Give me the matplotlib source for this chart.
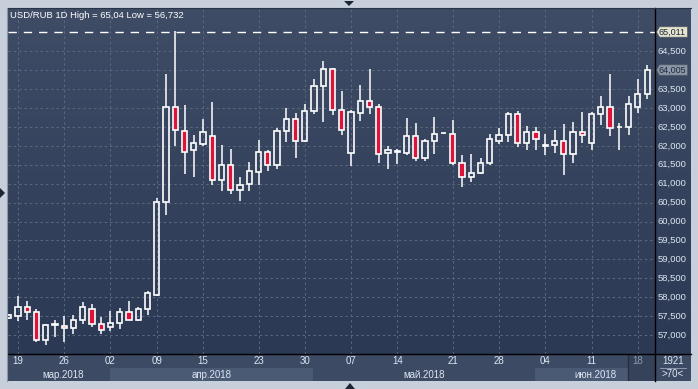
import matplotlib
matplotlib.use("Agg")
import matplotlib.pyplot as plt
import numpy as np
from matplotlib.patches import Polygon, Rectangle
from matplotlib.colors import LinearSegmentedColormap

# ---------------- data ----------------
title = "USD/RUB 1D High = 65,04 Low = 56,732"
first_index = -1
opens = [57.45, 57.51, 57.75, 57.60, 56.86, 57.26, 57.24, 57.18, 57.41, 57.69,
         57.28, 57.20, 57.31, 57.60, 57.40, 57.69, 58.07, 60.51, 63.04, 62.40,
         61.89, 62.04, 62.25, 61.10, 61.49, 60.83, 60.99, 61.31, 61.83, 61.49,
         62.39, 62.70, 62.14, 62.91, 63.57, 64.02, 62.96, 61.81, 62.86, 63.18,
         63.02, 61.81, 61.84, 61.82, 62.25, 61.68, 62.12, 62.33, 62.31, 61.54,
         61.18, 61.28, 61.54, 62.12, 62.28, 62.83, 62.07, 62.38, 62.00, 62.02,
         62.12, 61.78, 62.36, 62.07, 62.83, 63.02, 62.50, 62.51, 63.04, 63.36]
highs = [57.55, 58.03, 57.89, 57.70, 57.30, 57.40, 57.50, 57.53, 57.87, 57.83,
         57.47, 57.63, 57.71, 57.89, 57.75, 58.16, 60.61, 63.89, 65.04, 63.07,
         62.29, 62.70, 63.15, 62.03, 61.92, 61.18, 61.58, 62.16, 61.89, 62.46,
         63.00, 62.86, 63.12, 63.76, 64.24, 64.05, 63.45, 62.96, 63.62, 64.03,
         63.10, 62.00, 61.92, 62.74, 62.61, 62.18, 62.76, 62.34, 62.68, 61.76,
         61.79, 61.68, 62.32, 62.46, 62.90, 62.91, 62.53, 62.50, 62.32, 62.41,
         62.58, 62.63, 62.89, 62.89, 63.32, 63.89, 62.61, 63.32, 63.76, 64.13]
lows = [57.42, 57.38, 57.40, 56.82, 56.732, 56.96, 56.81, 57.02, 57.28, 57.22,
        57.02, 57.11, 57.15, 57.39, 57.38, 57.54, 58.04, 60.16, 62.00, 61.25,
        61.17, 62.00, 60.96, 60.81, 60.72, 60.54, 60.80, 60.97, 61.33, 61.40,
        62.09, 61.69, 62.10, 62.85, 62.64, 62.81, 62.30, 61.46, 62.66, 62.85,
        61.54, 61.38, 61.51, 61.75, 61.59, 61.59, 61.78, 62.32, 61.49, 60.90,
        61.04, 61.25, 61.49, 62.04, 62.11, 61.96, 61.89, 61.90, 61.77, 61.82,
        61.22, 61.54, 62.07, 61.90, 62.56, 62.26, 61.90, 62.30, 62.88, 63.25]
closes = [57.52, 57.75, 57.60, 56.86, 57.26, 57.28, 57.18, 57.41, 57.73, 57.29,
          57.13, 57.31, 57.60, 57.41, 57.68, 58.10, 60.51, 63.04, 62.41, 61.83,
          62.07, 62.38, 61.10, 61.49, 60.84, 60.96, 61.33, 61.83, 61.49, 62.39,
          62.70, 62.12, 62.91, 63.57, 64.02, 62.96, 62.41, 62.89, 63.18, 63.02,
          61.78, 61.89, 61.86, 62.26, 61.68, 62.12, 62.31, 62.33, 61.54, 61.18,
          61.28, 61.54, 62.18, 62.28, 62.83, 62.07, 62.38, 62.18, 62.01, 62.12,
          61.78, 62.36, 62.28, 62.83, 63.02, 62.46, 62.51, 63.10, 63.36, 64.005]
tick_index = [0, 5, 10, 15, 20, 26, 31, 36, 41, 47, 52, 57, 62, 67]
tick_labels = ["19", "26", "02", "09", "15", "23", "30", "07", "14", "21", "28", "04", "11", "18"]
month_labels = ["мар.2018", "апр.2018", "май.2018", "июн.2018"]
month_edges = [9.95, 31.9, 55.9]
price_levels = [57.0, 57.5, 58.0, 58.5, 59.0, 59.5, 60.0, 60.5, 61.0, 61.5,
                62.0, 62.5, 63.0, 63.5, 64.0, 64.5]
high_line = 65.011
last_close = 64.005
corner_top = "1921"
corner_bottom = ">70<"

# ---------------- layout helpers ----------------
W, H = 698, 389
def rect(x0, y0, x1, y1):
    return [x0 / W, 1 - y1 / H, (x1 - x0) / W, (y1 - y0) / H]

def bare(a):
    for s in a.spines.values():
        s.set_visible(False)
    a.set_xticks([])
    a.set_yticks([])

FONT = "Liberation Sans"
LBL = "#dce6f2"
RED = "#dc143c"
YMIN, YMAX = 56.498, 65.645
XMIN, XMAX = -1.08, 68.86

fig = plt.figure(figsize=(W / 100, H / 100), dpi=100, facecolor="#c7cfda")

# background gradient (plot + right price panel)
bg = fig.add_axes(rect(8, 8, 691, 354))
cmap = LinearSegmentedColormap.from_list("g", ["#3f4c66", "#2c3954"])
bg.imshow(np.linspace(0, 1, 256).reshape(-1, 1), aspect="auto", cmap=cmap,
          extent=[0, 1, 0, 1], origin="upper")
bg.set_axis_off()

# main candle axes
ax = fig.add_axes(rect(8, 8, 655, 354))
ax.set_facecolor("none")
ax.set_xlim(XMIN, XMAX)
ax.set_ylim(YMIN, YMAX)
bare(ax)

grid_kw = dict(color="#5b6a84", lw=0.7, linestyle=(0, (2.5, 3)), zorder=1)
for lv in price_levels:
    ax.axhline(lv, **grid_kw)
for ti in tick_index:
    ax.axvline(ti, **grid_kw)

ax.axhline(high_line, color="white", lw=1.0, linestyle=(0, (6, 5)), zorder=2)

o = np.array(opens); h = np.array(highs); l = np.array(lows); c = np.array(closes)
x = np.arange(first_index, first_index + len(o))
top = np.maximum(o, c); bot = np.minimum(o, c)
up = c >= o
ax.vlines(x, top, h, color="white", lw=1.1, zorder=3)
ax.vlines(x, l, bot, color="white", lw=1.1, zorder=3)
height = np.maximum(top - bot, 0.004)
ax.bar(x[up], height[up], bottom=bot[up], width=0.55, facecolor="none",
       edgecolor="white", lw=1.2, zorder=4)
ax.bar(x[~up], height[~up], bottom=bot[~up], width=0.55, facecolor=RED,
       edgecolor="white", lw=1.2, zorder=4)

fig.text(10 / W, 1 - 15 / H, title, color="white", fontsize=6.8, family=FONT,
         va="center", ha="left")

# right price panel
rax = fig.add_axes(rect(655, 8, 691, 354))
rax.set_facecolor("none")
rax.set_xlim(0, 36)
rax.set_ylim(YMIN, YMAX)
bare(rax)
for lv in price_levels:
    if abs(lv - 64.0) < 1e-6:
        continue
    rax.text(3, lv, f"{lv:.3f}".replace(".", ","), color=LBL, fontsize=6.8,
             family=FONT, va="center", ha="left")

def price_box(val, face, txtcol):
    hh = 5.2 / 37.83
    pts = [(1.5, val), (4.5, val + hh), (32.5, val + hh), (32.5, val - hh), (4.5, val - hh)]
    rax.add_patch(Polygon(pts, closed=True, facecolor=face, edgecolor="#555c66",
                          lw=0.5, zorder=5))
    rax.text(3.5, val, f"{val:.3f}".replace(".", ","), color=txtcol, fontsize=6.5,
             family=FONT, va="center", ha="left", zorder=6)

price_box(high_line, "#e5e4cd", "#1b2840")
price_box(last_close, "#8c96a6", "#1b2840")

# date axis
dax = fig.add_axes(rect(8, 354, 655, 381))
dax.set_facecolor("#3d4a63")
dax.set_xlim(XMIN, XMAX)
dax.set_ylim(0, 27)
bare(dax)
bands = [XMIN] + month_edges + [XMAX]
for k in range(4):
    if k % 2 == 1:
        dax.add_patch(Rectangle((bands[k], 0), bands[k + 1] - bands[k], 13.5,
                                facecolor="#4b5a74", edgecolor="none", zorder=1))
sep = 65.95
dax.add_patch(Rectangle((sep, 0), XMAX - sep, 27, facecolor="#354259",
                        edgecolor="none", zorder=2))
dax.plot([sep, sep], [0, 27], color="#262f40", lw=1.0, zorder=3)
for ti, tl in zip(tick_index, tick_labels):
    col = "#8d99ab" if ti > sep else LBL
    dax.text(ti, 20, tl, color=col, fontsize=7, family=FONT, ha="center",
             va="center", zorder=4)
label_x = [(XMIN + 9.95) / 2 + 0.4, (9.95 + 31.9) / 2, (31.9 + 55.9) / 2, (55.9 + XMAX) / 2]
for lx, ml in zip(label_x, month_labels):
    dax.text(lx, 6.5, ml, color=LBL, fontsize=7, family=FONT, ha="center",
             va="center", zorder=4)

# corner box
cax = fig.add_axes(rect(655, 354, 691, 381))
cax.set_facecolor("#3d4a63")
cax.set_xlim(0, 36); cax.set_ylim(0, 27)
bare(cax)
cax.text(18, 20, corner_top, color=LBL, fontsize=7, family=FONT, ha="center", va="center")
cax.plot([5, 31], [13.5, 13.5], color="#9aa6b8", lw=0.6)
cax.text(18, 7, corner_bottom, color=LBL, fontsize=7, family=FONT, ha="center", va="center")

# separators
fig.add_artist(plt.Line2D([655 / W, 655 / W], [1 - 8 / H, 1 - 381 / H], color="black", lw=1.0))
fig.add_artist(plt.Line2D([8 / W, 691 / W], [1 - 354 / H, 1 - 354 / H], color="black", lw=1.0))
fig.add_artist(plt.Line2D([7.5 / W, 7.5 / W], [1 - 8 / H, 1 - 381 / H], color="#8c97a8", lw=0.8))
fig.add_artist(plt.Line2D([8 / W, 691 / W], [1 - 8 / H, 1 - 8 / H], color="#2a3345", lw=0.8))

# small navigation triangles
def tri(pts):
    fig.add_artist(Polygon([(px / W, 1 - py / H) for px, py in pts], closed=True,
                           facecolor="#1c2536", edgecolor="none",
                           transform=fig.transFigure))
tri([(344, 1), (354, 1), (349, 6)])
tri([(345, 389), (355, 389), (350, 383)])
tri([(0, 188), (0, 198), (5, 193)])

fig.savefig("out.png", dpi=100, facecolor=fig.get_facecolor())
